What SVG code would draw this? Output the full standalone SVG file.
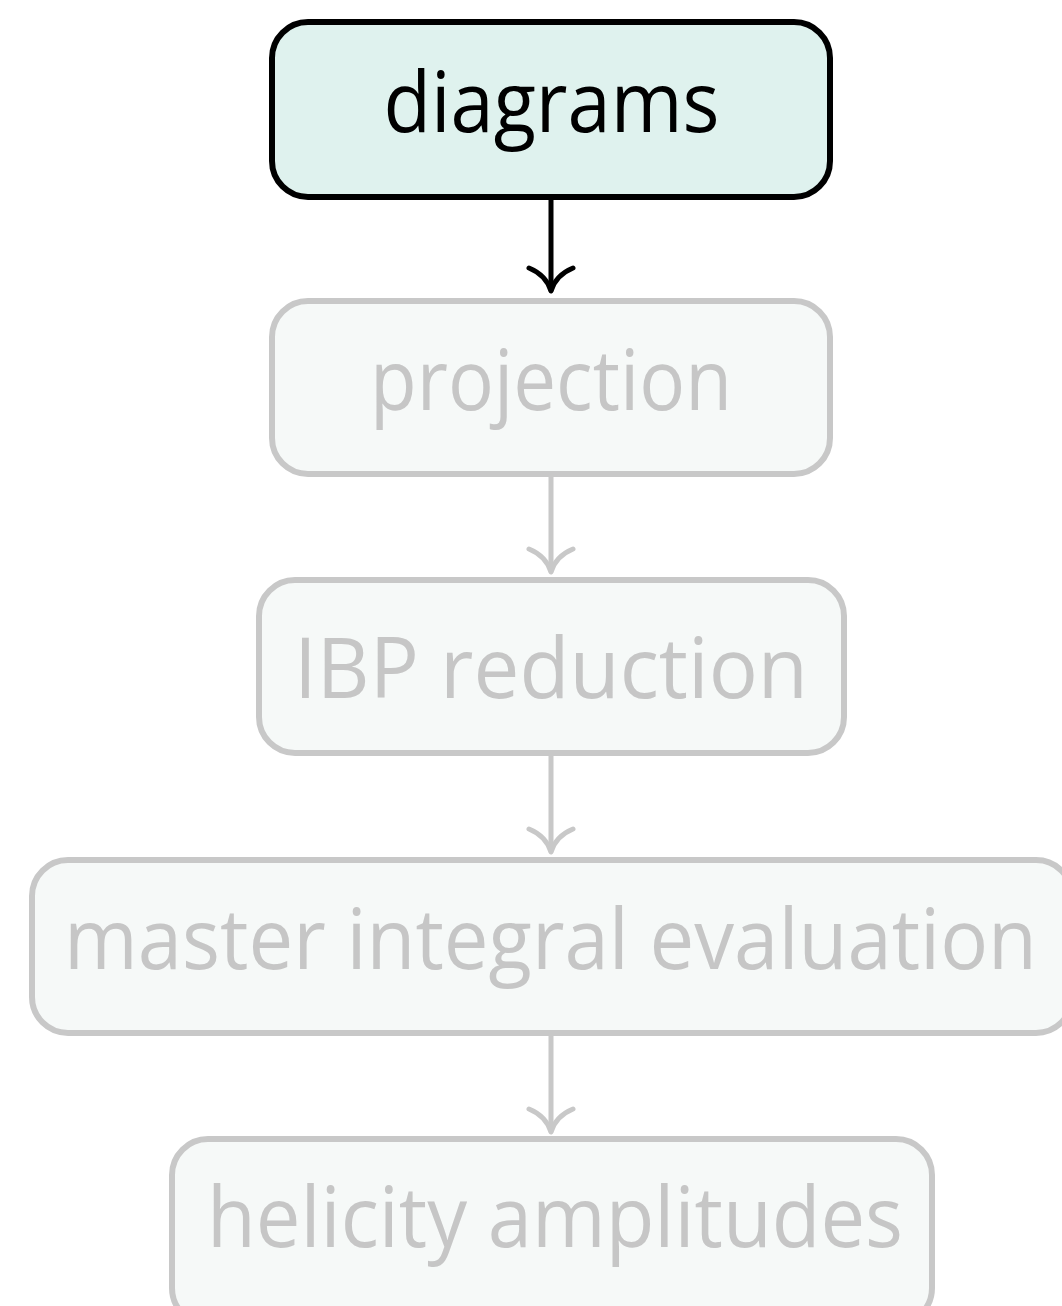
<svg xmlns="http://www.w3.org/2000/svg" width="1062" height="1306" viewBox="0 0 1062 1306">
<style>
.box{stroke-width:6}
.active{fill:#dff2ee;stroke:#000}
.faded{fill:#f6f9f8;stroke:#c8c8c8}
.lbl{font-family:"Open Sans","Liberation Sans",sans-serif;font-size:85px;text-anchor:middle}
.lact{fill:#000}
.lfad{fill:#c6c6c6}
.conn{fill:none;stroke-width:5;stroke-linecap:round;stroke-linejoin:round}
.cact{stroke:#000}
.cfad{stroke:#c8c8c8}
</style>
<rect width="1062" height="1306" fill="#fff"/>
<g id="connectors">
  <g id="c1" class="conn cact">
    <path d="M551 198 V290"/>
    <path d="M529 268 Q546 275 551 291 Q556 275 573 268"/>
  </g>
  <g id="c2" class="conn cfad">
    <path d="M551 476 V571"/>
    <path d="M529 549 Q546 556 551 572 Q556 556 573 549"/>
  </g>
  <g id="c3" class="conn cfad">
    <path d="M551 755 V851"/>
    <path d="M529 829 Q546 836 551 852 Q556 836 573 829"/>
  </g>
  <g id="c4" class="conn cfad">
    <path d="M551 1035 V1131"/>
    <path d="M529 1109 Q546 1116 551 1132 Q556 1116 573 1109"/>
  </g>
</g>
<g id="n1">
  <rect class="box active" x="272" y="22" width="558" height="175" rx="36"/>
  <text class="lbl lact" x="551.5" y="132" textLength="336" lengthAdjust="spacingAndGlyphs">diagrams</text>
</g>
<g id="n2">
  <rect class="box faded" x="272" y="301" width="558" height="173" rx="36"/>
  <text class="lbl lfad" x="551" y="410" textLength="362" lengthAdjust="spacingAndGlyphs">projection</text>
</g>
<g id="n3">
  <rect class="box faded" x="259" y="580" width="585" height="173" rx="36"/>
  <text class="lbl lfad" x="551" y="698" textLength="514" lengthAdjust="spacingAndGlyphs">IBP reduction</text>
</g>
<g id="n4">
  <rect class="box faded" x="32" y="860" width="1040" height="173" rx="36"/>
  <text class="lbl lfad" x="550.5" y="969" textLength="973" lengthAdjust="spacingAndGlyphs">master integral evaluation</text>
</g>
<g id="n5">
  <rect class="box faded" x="172" y="1139" width="760" height="185" rx="36"/>
  <text class="lbl lfad" x="555" y="1247" textLength="696" lengthAdjust="spacingAndGlyphs">helicity amplitudes</text>
</g>
</svg>
